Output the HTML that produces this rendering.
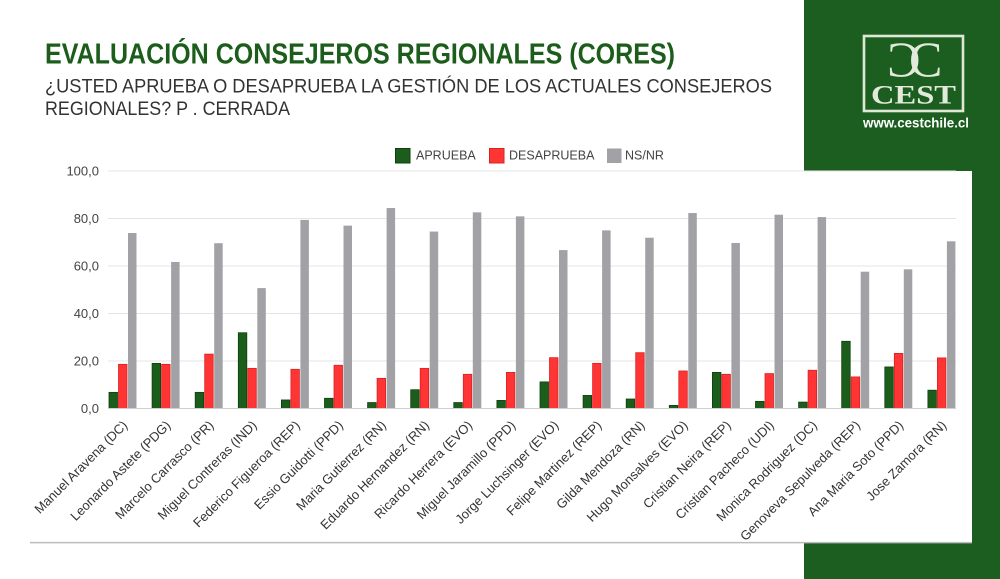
<!DOCTYPE html>
<html>
<head>
<meta charset="utf-8">
<style>
html,body{margin:0;padding:0;background:#fff;}
svg{display:block;}
text{font-family:"Liberation Sans",sans-serif;}
</style>
</head>
<body>
<svg width="1000" height="579" viewBox="0 0 1000 579" xmlns="http://www.w3.org/2000/svg">
<rect x="0" y="0" width="1000" height="579" fill="#ffffff"/>
<!-- green panel -->
<rect x="804" y="0" width="196" height="579" fill="#1b5e20"/>
<!-- logo -->
<rect x="864" y="36" width="99" height="75" fill="none" stroke="#dfe8d6" stroke-width="2.6"/>
<text transform="translate(920.5 76) scale(-1 1)" x="0" y="0" font-family="Liberation Serif, serif" font-size="50" fill="#e2eadb" style="font-family:'Liberation Serif',serif">C</text>
<text x="909" y="76" font-size="50" fill="#e2eadb" style="font-family:'Liberation Serif',serif">C</text>
<text x="871" y="103.5" font-size="26" font-weight="bold" fill="#e2eadb" textLength="85" lengthAdjust="spacingAndGlyphs" style="font-family:'Liberation Serif',serif">CEST</text>
<text x="863" y="127.5" font-size="13.5" font-weight="bold" fill="#ffffff" textLength="106" lengthAdjust="spacingAndGlyphs">www.cestchile.cl</text>

<!-- title -->
<text x="45" y="63.3" font-size="28.5" font-weight="bold" fill="#1c5d1c" textLength="630" lengthAdjust="spacingAndGlyphs">EVALUACIÓN CONSEJEROS REGIONALES (CORES)</text>
<text x="45" y="92.3" font-size="19.5" fill="#333333" textLength="727" lengthAdjust="spacingAndGlyphs">¿USTED APRUEBA O DESAPRUEBA LA GESTIÓN DE LOS ACTUALES CONSEJEROS</text>
<text x="45" y="115.2" font-size="19.5" fill="#333333" textLength="245" lengthAdjust="spacingAndGlyphs">REGIONALES? P . CERRADA</text>

<!-- legend -->
<rect x="395.5" y="148.5" width="14.5" height="14.5" fill="#1b5e1b" stroke="#0f3f10" stroke-width="1"/>
<text x="416" y="159.5" font-size="12.5" fill="#444">APRUEBA</text>
<rect x="489.5" y="148.5" width="14.5" height="14.5" fill="#ff3535" stroke="#d82222" stroke-width="1"/>
<text x="509" y="159.5" font-size="12.5" fill="#444">DESAPRUEBA</text>
<rect x="607" y="148.5" width="14.5" height="14.5" fill="#a2a1a6"/>
<text x="625" y="159.5" font-size="12.5" fill="#444">NS/NR</text>

<!-- chart card -->
<rect x="30" y="171" width="942" height="371" fill="#ffffff"/>
<line x1="30" y1="542.6" x2="972" y2="542.6" stroke="#bdbdbd" stroke-width="1.5"/>

<!-- gridlines -->
<g stroke="#e4e4e4" stroke-width="1">
<line x1="108" y1="171" x2="956" y2="171"/>
<line x1="108" y1="218.5" x2="956" y2="218.5"/>
<line x1="108" y1="266" x2="956" y2="266"/>
<line x1="108" y1="313.5" x2="956" y2="313.5"/>
<line x1="108" y1="361" x2="956" y2="361"/>
</g>

<!-- y labels -->
<g font-size="13" fill="#444" text-anchor="end">
<text x="99" y="175.5">100,0</text>
<text x="99" y="223">80,0</text>
<text x="99" y="270.5">60,0</text>
<text x="99" y="318">40,0</text>
<text x="99" y="365.5">20,0</text>
<text x="99" y="413">0,0</text>
</g>

<!-- bars: green -->
<g fill="#1b5e1b" stroke="#0f3f10" stroke-width="0.8">
<rect x="109" y="392.35" width="8.5" height="16.15"/>
<rect x="152.1" y="363.38" width="8.5" height="45.12"/>
<rect x="195.2" y="392.35" width="8.5" height="16.15"/>
<rect x="238.3" y="332.74" width="8.5" height="75.76"/>
<rect x="281.4" y="399.95" width="8.5" height="8.55"/>
<rect x="324.5" y="398.29" width="8.5" height="10.21"/>
<rect x="367.6" y="402.56" width="8.5" height="5.94"/>
<rect x="410.7" y="389.74" width="8.5" height="18.76"/>
<rect x="453.8" y="402.56" width="8.5" height="5.94"/>
<rect x="496.9" y="400.42" width="8.5" height="8.08"/>
<rect x="540" y="381.9" width="8.5" height="26.6"/>
<rect x="583.1" y="395.44" width="8.5" height="13.06"/>
<rect x="626.2" y="399" width="8.5" height="9.5"/>
<rect x="669.3" y="405.41" width="8.5" height="3.09"/>
<rect x="712.4" y="372.4" width="8.5" height="36.1"/>
<rect x="755.5" y="401.37" width="8.5" height="7.13"/>
<rect x="798.6" y="402.09" width="8.5" height="6.41"/>
<rect x="841.7" y="341.29" width="8.5" height="67.21"/>
<rect x="884.8" y="366.94" width="8.5" height="41.56"/>
<rect x="927.9" y="390.21" width="8.5" height="18.29"/>
</g>
<!-- bars: red -->
<g fill="#ff3535" stroke="#d82222" stroke-width="0.8">
<rect x="118.5" y="364.33" width="8.5" height="44.17"/>
<rect x="161.6" y="364.33" width="8.5" height="44.17"/>
<rect x="204.7" y="354.11" width="8.5" height="54.39"/>
<rect x="247.8" y="368.36" width="8.5" height="40.14"/>
<rect x="290.9" y="369.31" width="8.5" height="39.19"/>
<rect x="334" y="365.27" width="8.5" height="43.23"/>
<rect x="377.1" y="378.34" width="8.5" height="30.16"/>
<rect x="420.2" y="368.36" width="8.5" height="40.14"/>
<rect x="463.3" y="374.3" width="8.5" height="34.2"/>
<rect x="506.4" y="372.4" width="8.5" height="36.1"/>
<rect x="549.5" y="357.67" width="8.5" height="50.83"/>
<rect x="592.6" y="363.37" width="8.5" height="45.13"/>
<rect x="635.7" y="352.69" width="8.5" height="55.81"/>
<rect x="678.8" y="370.97" width="8.5" height="37.53"/>
<rect x="721.9" y="374.3" width="8.5" height="34.2"/>
<rect x="765" y="373.59" width="8.5" height="34.91"/>
<rect x="808.1" y="370.26" width="8.5" height="38.24"/>
<rect x="851.2" y="376.91" width="8.5" height="31.59"/>
<rect x="894.3" y="353.4" width="8.5" height="55.1"/>
<rect x="937.4" y="357.91" width="8.5" height="50.59"/>
</g>
<!-- bars: gray -->
<g fill="#a2a1a6">
<rect x="128" y="233" width="8.5" height="175.5"/>
<rect x="171.1" y="261.96" width="8.5" height="146.54"/>
<rect x="214.2" y="243.2" width="8.5" height="165.3"/>
<rect x="257.3" y="288.09" width="8.5" height="120.41"/>
<rect x="300.4" y="219.92" width="8.5" height="188.58"/>
<rect x="343.5" y="225.62" width="8.5" height="182.88"/>
<rect x="386.6" y="208.05" width="8.5" height="200.45"/>
<rect x="429.7" y="231.56" width="8.5" height="176.94"/>
<rect x="472.8" y="212.32" width="8.5" height="196.18"/>
<rect x="515.9" y="216.36" width="8.5" height="192.14"/>
<rect x="559" y="250.09" width="8.5" height="158.41"/>
<rect x="602.1" y="230.37" width="8.5" height="178.13"/>
<rect x="645.2" y="237.74" width="8.5" height="170.76"/>
<rect x="688.3" y="213.04" width="8.5" height="195.46"/>
<rect x="731.4" y="242.96" width="8.5" height="165.54"/>
<rect x="774.5" y="214.7" width="8.5" height="193.8"/>
<rect x="817.6" y="217.07" width="8.5" height="191.43"/>
<rect x="860.7" y="271.7" width="8.5" height="136.8"/>
<rect x="903.8" y="269.32" width="8.5" height="139.18"/>
<rect x="946.9" y="241.3" width="8.5" height="167.2"/>
</g>

<!-- baseline -->
<line x1="108" y1="408.5" x2="956" y2="408.5" stroke="#cfcfcf" stroke-width="1"/>

<!-- x labels -->
<g font-size="13" fill="#333" text-anchor="end">
<text transform="translate(128.25 426) rotate(-45)">Manuel Aravena (DC)</text>
<text transform="translate(171.35 426) rotate(-45)">Leonardo Astete (PDG)</text>
<text transform="translate(214.45 426) rotate(-45)">Marcelo Carrasco (PR)</text>
<text transform="translate(257.55 426) rotate(-45)">Miguel Contreras (IND)</text>
<text transform="translate(300.65 426) rotate(-45)">Federico Figueroa (REP)</text>
<text transform="translate(343.75 426) rotate(-45)">Essio Guidotti (PPD)</text>
<text transform="translate(386.85 426) rotate(-45)">Maria Gutierrez (RN)</text>
<text transform="translate(429.95 426) rotate(-45)">Eduardo Hernandez (RN)</text>
<text transform="translate(473.05 426) rotate(-45)">Ricardo Herrera (EVO)</text>
<text transform="translate(516.15 426) rotate(-45)">Miguel Jaramillo (PPD)</text>
<text transform="translate(559.25 426) rotate(-45)">Jorge Luchsinger (EVO)</text>
<text transform="translate(602.35 426) rotate(-45)">Felipe Martinez (REP)</text>
<text transform="translate(645.45 426) rotate(-45)">Gilda Mendoza (RN)</text>
<text transform="translate(688.55 426) rotate(-45)">Hugo Monsalves (EVO)</text>
<text transform="translate(731.65 426) rotate(-45)">Cristian Neira (REP)</text>
<text transform="translate(774.75 426) rotate(-45)">Cristian Pacheco (UDI)</text>
<text transform="translate(817.85 426) rotate(-45)">Monica Rodriguez (DC)</text>
<text transform="translate(860.95 426) rotate(-45)">Genoveva Sepulveda (REP)</text>
<text transform="translate(904.05 426) rotate(-45)">Ana Maria Soto (PPD)</text>
<text transform="translate(947.15 426) rotate(-45)">Jose Zamora (RN)</text>
</g>
</svg>
</body>
</html>
